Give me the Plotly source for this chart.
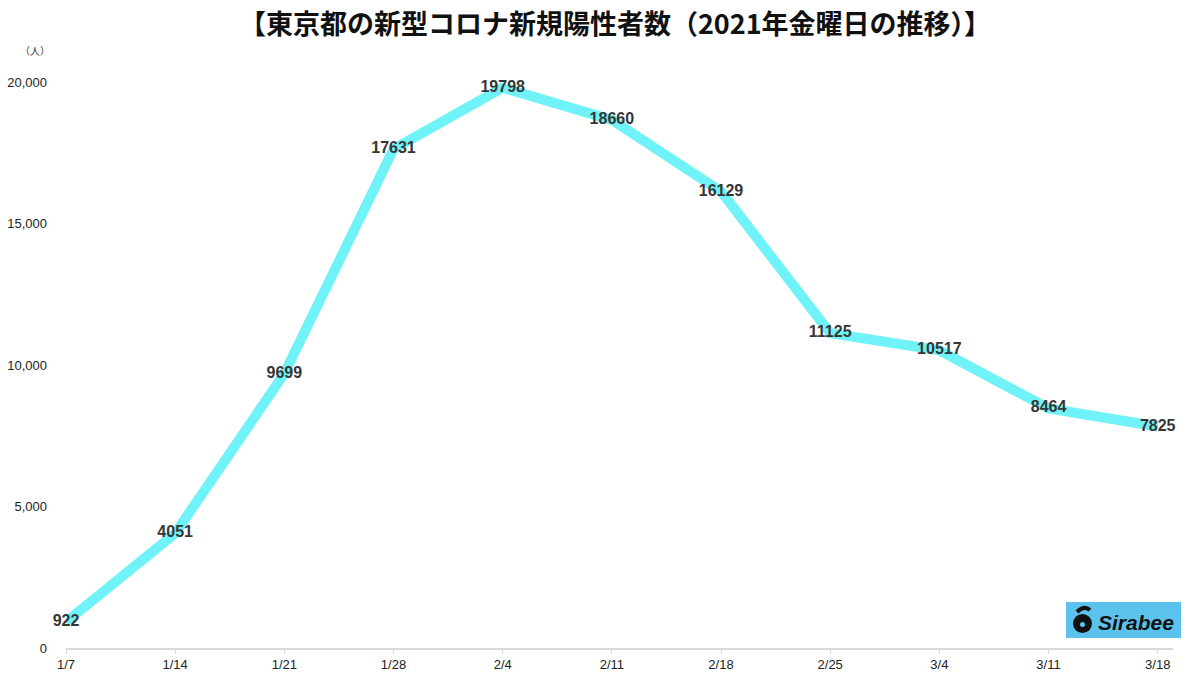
import plotly.graph_objects as go

dates = ["1/7", "1/14", "1/21", "1/28", "2/4", "2/11", "2/18", "2/25", "3/4", "3/11", "3/18"]
cases = [922, 4051, 9699, 17631, 19798, 18660, 16129, 11125, 10517, 8464, 7825]
y_ticks = [0, 5000, 10000, 15000, 20000]
y_tick_text = ["0", "5,000", "10,000", "15,000", "20,000"]
title = "【東京都の新型コロナ新規陽性者数（2021年金曜日の推移）】"

font = "Liberation Sans, Arial, sans-serif"

FW, FH = 1200, 693
O = 0  # page body offset (body margin removed below)
L, R, T, B = 66 - O, 1173 - O, 82 - O, 648 - O
W, H = R - L, B - T


def px(x):
    return (x - O - L) / W


def py(y):
    return (B - (y - O)) / H


fig = go.Figure()
fig.add_trace(go.Scatter(
    x=list(range(len(dates))), y=cases, mode="lines+text",
    line=dict(color="#70F3F8", width=10),
    text=[str(v) for v in cases], textposition="middle center",
    textfont=dict(family=font, size=16, color="#363636", weight="bold"),
    cliponaxis=False, hoverinfo="skip", showlegend=False,
))

icon_path = f"M {px(1077)},{py(612)} Q {px(1084)},{py(605)} {px(1090)},{py(610)}"

fig.update_layout(
    width=FW, height=FH,
    margin=dict(l=L, r=FW - R, t=T, b=FH - B, autoexpand=False),
    paper_bgcolor="white", plot_bgcolor="white",
    title=dict(text="<b>" + title + "</b>", x=(615 - O) / FW, xanchor="center",
               y=1 - (25 - O) / FH, yanchor="middle",
               font=dict(family="Noto Sans CJK JP", size=27, color="#111111")),
    xaxis=dict(
        range=[0, 10.14], tickmode="array", tickvals=list(range(len(dates))), ticktext=dates,
        showgrid=False, zeroline=False, showline=True, linecolor="#d9d9d9", linewidth=1.5,
        ticks="outside", ticklen=4, tickcolor="#d9d9d9", automargin=False,
        tickfont=dict(family=font, size=13, color="#222222"),
    ),
    yaxis=dict(
        range=[0, 20000], tickmode="array", tickvals=y_ticks, ticktext=y_tick_text,
        showgrid=False, zeroline=False, showline=False, ticks="", ticklabelstandoff=18,
        automargin=False,
        tickfont=dict(family=font, size=13, color="#222222"),
    ),
    shapes=[
        dict(type="rect", xref="paper", yref="paper",
             x0=px(1066), x1=px(1181), y0=py(638), y1=py(602),
             fillcolor="#5BC2EE", line=dict(width=0), layer="above"),
        dict(type="circle", xref="paper", yref="paper",
             x0=px(1073), x1=px(1092), y0=py(633), y1=py(614),
             fillcolor="#111111", line=dict(width=0), layer="above"),
        dict(type="path", xref="paper", yref="paper", path=icon_path,
             line=dict(color="#111111", width=4), layer="above"),
        dict(type="circle", xref="paper", yref="paper",
             x0=px(1080), x1=px(1085), y0=py(627), y1=py(622),
             fillcolor="#5BC2EE", line=dict(width=0), layer="above"),
    ],
    annotations=[
        dict(text="（人）", xref="paper", yref="paper", x=px(35), y=py(50),
             xanchor="center", yanchor="middle", showarrow=False,
             font=dict(family="Noto Sans CJK JP", size=10, color="#333333")),
        dict(text="<b><i>Sirabee</i></b>", xref="paper", yref="paper",
             x=px(1096), y=py(622), xanchor="left", yanchor="middle",
             showarrow=False, font=dict(family=font, size=21, color="#111111")),
    ],
)

fig.write_html("out.html", config={"displayModeBar": False},
               post_script="document.body.style.margin='0';")
